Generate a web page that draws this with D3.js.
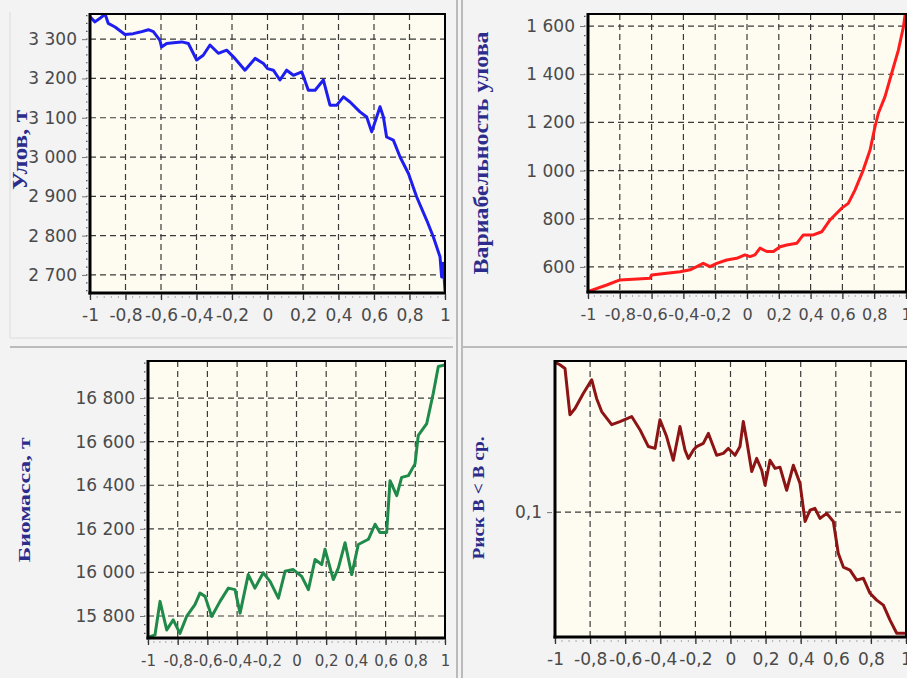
<!DOCTYPE html>
<html><head><meta charset="utf-8">
<script src="https://cdn.jsdelivr.net/npm/d3@7"></script>
<style>
html,body{margin:0;padding:0;background:#f3f3f3;}
svg{display:block;}
</style></head><body>
<svg id="c" width="907" height="678"></svg>
<script>
// ---------- data ----------
const xTicks = [-1,-0.8,-0.6,-0.4,-0.2,0,0.2,0.4,0.6,0.8,1];

const catchTicks = [2700,2800,2900,3000,3100,3200,3300];
const catchX = [-1,-0.972,-0.944,-0.915,-0.897,-0.859,-0.803,-0.756,-0.718,-0.671,-0.643,-0.606,-0.597,-0.568,-0.53,-0.483,-0.446,-0.399,-0.362,-0.324,-0.277,-0.23,-0.192,-0.127,-0.07,-0.023,0,0.033,0.07,0.108,0.146,0.193,0.23,0.268,0.315,0.352,0.39,0.428,0.465,0.521,0.559,0.587,0.615,0.634,0.653,0.671,0.709,0.747,0.794,0.84,0.897,0.934,0.972,0.981,0.99,1.0];
const catchY = [3357,3344,3353,3364,3340,3331,3312,3314,3318,3324,3319,3297,3280,3289,3291,3293,3289,3247,3259,3285,3264,3272,3255,3221,3251,3238,3225,3221,3196,3221,3208,3217,3170,3170,3196,3132,3132,3153,3140,3115,3102,3064,3102,3128,3102,3051,3043,3000,2958,2899,2839,2797,2746,2695,2730,2660];

const varTicks = [600,800,1000,1200,1400,1600];
const varX = [-1,-0.882,-0.799,-0.715,-0.61,-0.6,-0.505,-0.421,-0.358,-0.316,-0.275,-0.233,-0.19,-0.128,-0.065,-0.013,0.019,0.05,0.082,0.124,0.166,0.208,0.25,0.313,0.354,0.417,0.47,0.522,0.564,0.596,0.637,0.679,0.731,0.774,0.805,0.826,0.868,0.91,0.952,0.984,0.994,1.0];
const varY = [498,525,546,549,553,567,574,580,588,601,615,601,615,629,636,650,643,650,678,664,664,684,691,698,733,733,746,795,823,844,864,919,1002,1085,1182,1238,1307,1404,1500,1597,1646,1660];

const bioTicks = [15800,16000,16200,16400,16600,16800];
const bioX = [-1,-0.987,-0.953,-0.919,-0.874,-0.83,-0.785,-0.74,-0.684,-0.65,-0.616,-0.571,-0.515,-0.459,-0.414,-0.38,-0.325,-0.28,-0.224,-0.178,-0.122,-0.077,-0.022,0.035,0.08,0.125,0.17,0.192,0.248,0.282,0.327,0.372,0.416,0.484,0.529,0.562,0.607,0.63,0.675,0.708,0.753,0.798,0.82,0.877,0.921,0.955,1.0];
const bioY = [15700,15705,15713,15867,15736,15782,15720,15798,15852,15905,15890,15798,15867,15928,15921,15813,15990,15928,15998,15959,15882,16005,16013,15982,15921,16059,16036,16106,15967,16021,16136,15990,16128,16152,16221,16183,16183,16421,16352,16436,16444,16498,16629,16683,16822,16945,16952];

const riskTicks = [0.1];
const riskX = [-1,-0.972,-0.943,-0.915,-0.886,-0.839,-0.791,-0.763,-0.734,-0.677,-0.63,-0.563,-0.516,-0.468,-0.43,-0.402,-0.364,-0.326,-0.288,-0.259,-0.24,-0.212,-0.193,-0.155,-0.126,-0.079,-0.041,-0.012,0.026,0.054,0.073,0.092,0.121,0.149,0.178,0.197,0.225,0.254,0.282,0.32,0.358,0.396,0.425,0.453,0.481,0.51,0.548,0.586,0.614,0.643,0.681,0.719,0.757,0.795,0.833,0.871,0.909,0.947,0.994,1.0];
const riskY = [0.1240,0.1236,0.1230,0.1156,0.1166,0.1190,0.1212,0.1182,0.1161,0.1140,0.1145,0.1153,0.1132,0.1105,0.1102,0.1148,0.1121,0.1083,0.1137,0.1099,0.1086,0.1099,0.1105,0.1110,0.1126,0.1091,0.1094,0.1102,0.1091,0.1105,0.1145,0.1115,0.1065,0.1086,0.1067,0.1043,0.1083,0.1070,0.1072,0.1035,0.1075,0.1046,0.0985,0.1003,0.1006,0.0990,0.0998,0.0985,0.0934,0.0912,0.0907,0.0891,0.0894,0.0870,0.0859,0.0851,0.0827,0.0806,0.0806,0.0806];

// ---------- layout / style ----------
const panels = [
  {x0:90, x1:445, y0:14, y1:293, domain:[2654,3364], minorStep:20, xs:catchX, ys:catchY, ticks:catchTicks, color:"#1e1ef0",
   label:"Улов, т", lx:20, ly:150, llen:80, lsize:20, xfs:17},
  {x0:588, x1:906, y0:14, y1:292, domain:[496,1650], minorStep:40, xs:varX, ys:varY, ticks:varTicks, color:"#ff1c1c",
   label:"Вариабельность улова", lx:481, ly:153, llen:243, lsize:21, xfs:16},
  {x0:148, x1:445, y0:361, y1:638, domain:[15699,16970], minorStep:40, xs:bioX, ys:bioY, ticks:bioTicks, color:"#1f8a4a",
   label:"Биомасса, т", lx:24, ly:500, llen:125, lsize:16, xfs:15},
  {x0:555, x1:906, y0:361, y1:637, domain:[0.08,0.1242], minorStep:null, xs:riskX, ys:riskY, ticks:riskTicks, color:"#8c1414",
   label:"Риск B < B ср.", lx:478, ly:498, llen:123, lsize:17, xfs:17}
];

const loc = d3.formatLocale({decimal:",", thousands:" ", grouping:[3], currency:["",""], minus:"-"});
const fmtY = loc.format(",");
const fmtX = loc.format(".1~f");

const svg = d3.select("#c");
svg.append("rect").attr("width",907).attr("height",678).attr("fill","#f3f3f3");

// panel separators
const sep = svg.append("g").attr("stroke","#a9a9a9").attr("stroke-width",1.5).attr("fill","none");
sep.append("line").attr("x1",457).attr("x2",457).attr("y1",0).attr("y2",678);
sep.append("line").attr("x1",462).attr("x2",462).attr("y1",0).attr("y2",678);
sep.append("line").attr("x1",10).attr("x2",453).attr("y1",347).attr("y2",347);
sep.append("line").attr("x1",463).attr("x2",907).attr("y1",347).attr("y2",347);
svg.append("line").attr("x1",10).attr("x2",10).attr("y1",12).attr("y2",338).attr("stroke","#dcdcdc");
svg.append("line").attr("x1",10).attr("x2",453).attr("y1",338).attr("y2",338).attr("stroke","#dcdcdc");

panels.forEach((p,i) => {
  const g = svg.append("g");
  const x = d3.scaleLinear().domain([-1,1]).range([p.x0,p.x1]);
  const y = d3.scaleLinear().domain(p.domain).range([p.y1,p.y0]);

  g.append("rect").attr("x",p.x0).attr("y",p.y0).attr("width",p.x1-p.x0).attr("height",p.y1-p.y0)
    .attr("fill","#fefcf0");

  // grid
  const grid = g.append("g").attr("stroke","#3a3a3a").attr("stroke-width",1.2).attr("stroke-dasharray","6,4");
  grid.selectAll("line.v").data(xTicks.slice(1,-1)).join("line")
    .attr("x1",d=>x(d)).attr("x2",d=>x(d)).attr("y1",p.y0).attr("y2",p.y1);
  grid.selectAll("line.h").data(p.ticks).join("line")
    .attr("x1",p.x0).attr("x2",p.x1).attr("y1",d=>y(d)).attr("y2",d=>y(d));

  // series
  const cid = "clip"+i;
  g.append("clipPath").attr("id",cid).append("rect")
    .attr("x",p.x0).attr("y",p.y0).attr("width",p.x1-p.x0).attr("height",p.y1-p.y0);
  const pts = p.xs.map((v,k)=>[v,p.ys[k]]);
  g.append("path").attr("clip-path",`url(#${cid})`)
    .attr("d", d3.line().x(d=>x(d[0])).y(d=>y(d[1]))(pts))
    .attr("fill","none").attr("stroke",p.color).attr("stroke-width",3)
    .attr("stroke-linejoin","round").attr("stroke-linecap","round");

  // frame
  g.append("rect").attr("x",p.x0).attr("y",p.y0).attr("width",p.x1-p.x0).attr("height",p.y1-p.y0)
    .attr("fill","none").attr("stroke","#000").attr("stroke-width",2);
  g.append("line").attr("x1",p.x0).attr("x2",p.x0).attr("y1",p.y0-1).attr("y2",p.y1+1.5)
    .attr("stroke","#000").attr("stroke-width",3);
  g.append("line").attr("x1",p.x0-1.5).attr("x2",p.x1+1).attr("y1",p.y1).attr("y2",p.y1)
    .attr("stroke","#000").attr("stroke-width",3);

  // minor ticks
  if (p.minorStep) {
    const mt = d3.range(Math.ceil(p.domain[0]/p.minorStep)*p.minorStep, p.domain[1], p.minorStep);
    g.append("g").selectAll("line").data(mt).join("line")
      .attr("x1",p.x0-4).attr("x2",p.x0-2.5).attr("y1",d=>y(d)).attr("y2",d=>y(d))
      .attr("stroke","#555").attr("stroke-width",1.2);
  }
  const mx = d3.range(-1,1.0001,0.04);
  g.append("g").selectAll("line").data(mx).join("line")
    .attr("x1",d=>x(d)).attr("x2",d=>x(d)).attr("y1",p.y1+3).attr("y2",p.y1+5)
    .attr("stroke","#aaa").attr("stroke-width",1);

  // axes
  const ya = g.append("g").attr("transform",`translate(${p.x0-3},0)`)
    .call(d3.axisLeft(y).tickValues(p.ticks).tickFormat(fmtY).tickSizeInner(5).tickSizeOuter(0).tickPadding(5));
  ya.select(".domain").remove();
  ya.selectAll("line").attr("stroke","#777");
  ya.selectAll("text").attr("font-family","'DejaVu Sans', sans-serif").attr("font-size",17).attr("fill","#4a4a4a");

  const xa = g.append("g").attr("transform",`translate(0,${p.y1+1})`)
    .call(d3.axisBottom(x).tickValues(xTicks).tickFormat(fmtX).tickSizeInner(6).tickSizeOuter(0).tickPadding(p.xfs < 17 ? 10 : 9));
  xa.select(".domain").remove();
  xa.selectAll("line").attr("stroke","#333").attr("stroke-width",1.3);
  xa.selectAll("text").attr("font-family","'DejaVu Sans', sans-serif").attr("font-size",p.xfs).attr("fill","#4a4a4a");

  // y title
  g.append("text")
    .attr("transform",`translate(${p.lx},${p.ly}) rotate(-90)`)
    .attr("text-anchor","middle").attr("dominant-baseline","central")
    .attr("font-family","'Liberation Serif','Times New Roman',serif").attr("font-weight","bold")
    .attr("font-size",p.lsize).attr("fill","#2c2c8c")
    .attr("textLength",p.llen).attr("lengthAdjust","spacingAndGlyphs")
    .text(p.label);
});
</script>
</body></html>
